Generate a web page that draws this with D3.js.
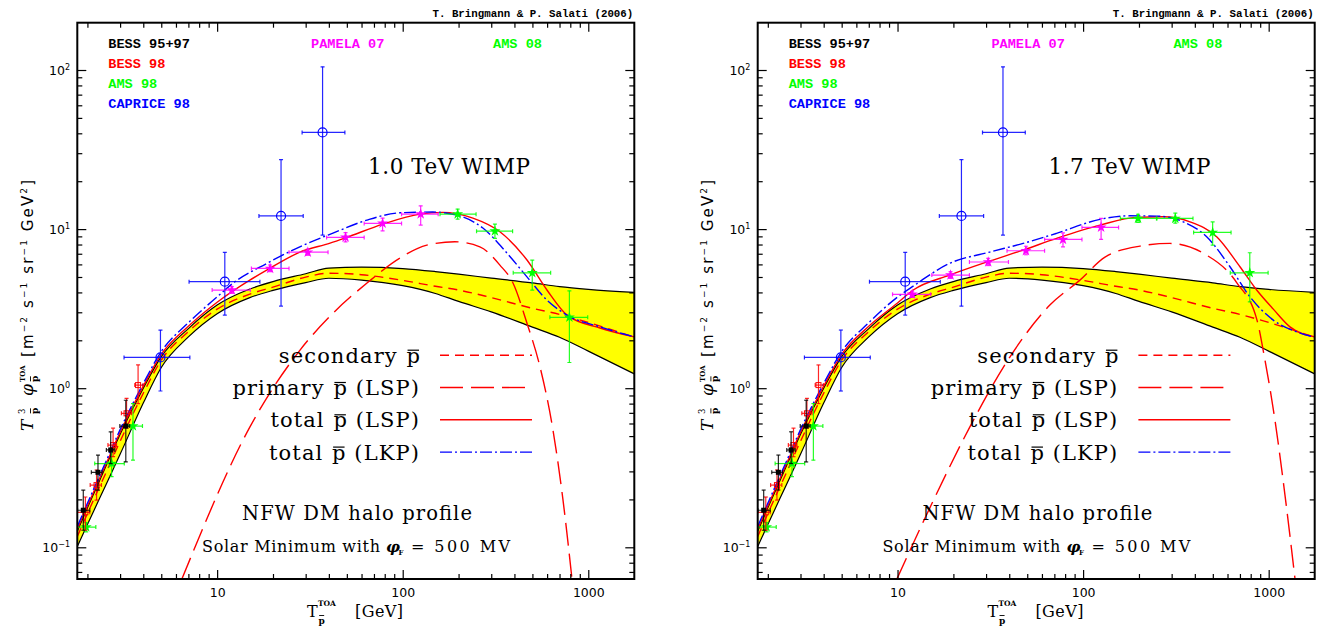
<!DOCTYPE html>
<html>
<head>
<meta charset="utf-8">
<script src="https://cdn.jsdelivr.net/npm/d3@7"></script>
<style>
  body { margin: 0; background: #fff; }
  svg { display: block; }
</style>
</head>
<body>
<div id="chart"></div>
<script>
// secondary antiproton band (same in both panels)
const energyGrid   = [1.764, 2, 2.5, 3, 4, 5, 7, 10, 15, 20, 30, 40, 60, 100, 150, 200, 300, 500, 700, 1000, 1770];
const secondaryMax = [0.126, 0.177, 0.318, 0.513, 1.00, 1.58, 2.37, 3.33, 4.20, 4.68, 5.24, 5.69, 5.77, 5.65, 5.41, 5.21, 4.92, 4.59, 4.35, 4.18, 4.00];
const secondaryMin = [0.101, 0.139, 0.243, 0.384, 0.806, 1.35, 2.10, 2.94, 3.71, 4.12, 4.61, 4.91, 4.78, 4.41, 3.94, 3.51, 3.02, 2.42, 2.09, 1.71, 1.23];
const secondaryMed = [0.117, 0.163, 0.289, 0.464, 0.93, 1.50, 2.27, 3.14, 3.90, 4.32, 4.99, 5.28, 5.17, 4.76, 4.37, 4.14, 3.71, 3.18, 2.91, 2.59, 2.09];

// 1.0 TeV WIMP
const prim10E = [6.45, 15.0, 27.9, 42.1, 64.2, 96.5, 134.9, 190.9, 260.5, 334, 392.9, 467.4, 549.5, 645.4, 730.8, 817.2];
const prim10F = [0.063, 0.569, 1.73, 2.96, 4.58, 6.57, 7.93, 8.32, 7.74, 5.94, 4.58, 2.56, 1.36, 0.545, 0.198, 0.063];
const lsp10E = [1.764, 2, 2.5, 3, 4, 5, 7, 10, 15, 18.5, 27.9, 40.6, 48.8, 78.2, 123.6, 164.4, 238.9, 334, 467.4, 598.7, 767.9, 1156, 1770];
const lsp10F = [0.130, 0.182, 0.327, 0.528, 1.03, 1.63, 2.45, 3.47, 4.78, 5.52, 7.16, 8.16, 8.78, 10.75, 12.42, 12.74, 11.72, 9.62, 6.39, 4.14, 2.88, 2.39, 2.10];
const lkp10E = [1.764, 2, 2.5, 3, 4, 5, 7, 10, 12.15, 18.5, 27.9, 42.1, 64.2, 96.5, 145.3, 195.8, 270.4, 364.4, 467.4, 598.7, 767.9, 1156, 1770];
const lkp10F = [0.135, 0.189, 0.340, 0.549, 1.07, 1.70, 2.58, 3.75, 4.56, 6.08, 7.74, 9.44, 11.39, 12.66, 12.8, 12.24, 10.15, 7.07, 5.01, 3.58, 2.88, 2.43, 2.10];

// 1.7 TeV WIMP
const prim17E = [9.91, 14.9, 24.5, 40.3, 66.2, 96.1, 131.2, 202.4, 293.6, 442.6, 675, 865, 955, 1081, 1224, 1387];
const prim17F = [0.063, 0.176, 0.569, 1.57, 3.33, 4.78, 6.67, 7.82, 8.13, 7.07, 4.58, 2.68, 1.50, 0.63, 0.213, 0.063];
const lsp17E = [1.764, 2, 2.5, 3, 4, 5, 7, 10, 12.15, 19.1, 31.4, 47.5, 71.9, 123.2, 194.3, 270.3, 376.5, 524.5, 700.2, 861.6, 1059, 1302, 1777];
const lsp17F = [0.130, 0.182, 0.327, 0.528, 1.03, 1.63, 2.45, 3.43, 4.14, 5.14, 6.30, 7.38, 8.74, 10.59, 11.85, 11.95, 11.11, 8.95, 5.80, 4.14, 3.14, 2.43, 2.10];
const lkp17E = [1.764, 2, 2.5, 3, 4, 5, 7, 10, 12.15, 19.1, 31.4, 47.5, 71.9, 123.2, 178.8, 249, 346.4, 463.3, 618.6, 793.2, 1059, 1415, 1777];
const lkp17F = [0.135, 0.189, 0.340, 0.549, 1.07, 1.70, 2.58, 3.74, 4.38, 6.09, 7.17, 8.13, 9.40, 11.51, 12.12, 12.07, 11.11, 8.95, 5.80, 3.75, 2.68, 2.26, 2.09];

// measurements: [T, Tlo, Thi, flux, fluxLo, fluxHi]
const bess9597 = [
  [1.90, 1.77, 2.06, 0.171, 0.128, 0.229],
  [2.28, 2.10, 2.40, 0.296, 0.229, 0.380],
  [2.67, 2.53, 2.81, 0.409, 0.336, 0.532],
  [3.22, 2.99, 3.38, 0.578, 0.344, 0.84]
];
const bess98 = [
  [1.95, 1.764, 2.06, 0.166, 0.128, 0.207],
  [2.24, 2.07, 2.38, 0.246, 0.198, 0.306],
  [2.75, 2.58, 2.87, 0.439, 0.371, 0.561],
  [3.25, 3.05, 3.46, 0.695, 0.561, 0.863],
  [3.75, 3.60, 3.99, 1.046, 0.80, 1.40]
];
const ams98 = [
  [1.97, 1.764, 2.22, 0.134, 0.125, 0.143],
  [2.70, 2.19, 3.16, 0.336, 0.278, 0.419],
  [3.52, 3.18, 3.96, 0.578, 0.353, 0.80]
];
const caprice98 = [
  [4.95, 3.15, 7.13, 1.56, 0.96, 2.32],
  [11.0, 7.06, 17.0, 4.67, 2.88, 7.14],
  [22.1, 16.8, 29.1, 12.1, 3.28, 27.3],
  [37.0, 28.7, 48.8, 40.5, 9.17, 104.7]
];
const pamela10 = [
  [12.0, 9.4, 15.1, 4.14, 3.95, 4.35],
  [19.3, 15.3, 24.4, 5.66, 5.40, 5.95],
  [30.8, 24.4, 39.6, 7.16, 6.85, 7.50],
  [49.2, 38.9, 62.0, 8.87, 8.30, 9.50],
  [77.9, 62.0, 98.6, 10.86, 9.76, 11.72],
  [125, 98.6, 155.3, 12.42, 10.6, 14.0]
];
const ams08_10 = [
  [197.7, 158.8, 248.5, 12.42, 11.55, 13.37],
  [314, 250, 391, 9.71, 8.74, 10.75],
  [499, 394, 627, 5.31, 4.14, 6.39],
  [791, 621, 993, 2.79, 1.45, 4.09]
];
const pamela17 = [
  [12.0, 9.4, 15.1, 3.89, 3.72, 4.07],
  [19.3, 15.3, 24.4, 5.14, 4.90, 5.40],
  [30.8, 24.4, 39.6, 6.21, 5.90, 6.55],
  [49.2, 38.9, 62.0, 7.31, 6.90, 7.80],
  [77.9, 62.0, 98.6, 8.61, 7.74, 9.48],
  [125, 98.6, 155.3, 10.25, 8.61, 11.67]
];
const ams08_17 = [
  [197.7, 158.8, 248.5, 11.67, 11.0, 12.4],
  [314, 250, 391, 11.67, 10.9, 12.6],
  [499, 394, 627, 9.53, 7.93, 11.1],
  [791, 621, 993, 5.31, 3.49, 7.10]
];

const xMajor = [10, 100, 1000];
const xMinor = [2, 3, 4, 5, 6, 7, 8, 9, 20, 30, 40, 50, 60, 70, 80, 90, 200, 300, 400, 500, 600, 700, 800, 900];
const yMajor = [0.1, 1, 10, 100];
const yMinor = [0.07, 0.08, 0.09, 0.2, 0.3, 0.4, 0.5, 0.6, 0.7, 0.8, 0.9, 2, 3, 4, 5, 6, 7, 8, 9, 20, 30, 40, 50, 60, 70, 80, 90];
const yExp = {0.1: "\u22121", 1: "0", 10: "1", 100: "2"};

// legend labels, split around the barred p
const legendParts = [["secondary ", "p", ""], ["primary ", "p", " (LSP)"], ["total ", "p", " (LSP)"], ["total ", "p", " (LKP)"]];

const panels = [
  {id: 0, ox: 0, wimp: "1.0 TeV WIMP", primE: prim10E, primF: prim10F, lspE: lsp10E, lspF: lsp10F,
   lkpE: lkp10E, lkpF: lkp10F, pamela: pamela10, ams08: ams08_10, legShift: 0},
  {id: 1, ox: 680.4, wimp: "1.7 TeV WIMP", primE: prim17E, primF: prim17F, lspE: lsp17E, lspF: lsp17F,
   lkpE: lkp17E, lkpF: lkp17F, pamela: pamela17, ams08: ams08_17, legShift: 18}
];

const W = 1322, H = 629;
const L = 77.3, R = 634.3, T = 22.7, B = 579;
const SERIF = "'DejaVu Serif', serif";
const MONO = "'Liberation Mono', 'DejaVu Sans Mono', monospace";
const SANS = "'DejaVu Sans', sans-serif";
const GREEN = "#00ff00";
const LW = 1.4;

const svg = d3.select("#chart").append("svg")
  .attr("width", W).attr("height", H)
  .style("font-family", SERIF);

// short bar above a small "p" text element
function barOver(g, node, yBar, w) {
  const bb = node.getBBox();
  const len = Math.min(bb.width, 12);
  g.append("line")
    .attr("x1", bb.x + 0.1 * len).attr("x2", bb.x + 0.9 * len)
    .attr("y1", yBar).attr("y2", yBar)
    .style("stroke", "#000").style("stroke-width", w);
}

function drawPoints(g, x, y, data, color, shape) {
  const grp = g.append("g").selectAll("g").data(data).join("g");
  const line = sel => sel.style("stroke", color).style("stroke-width", 1.2).style("stroke-opacity", 0.85);
  line(grp.append("line")).attr("x1", d => x(d[1])).attr("x2", d => x(d[2])).attr("y1", d => y(d[3])).attr("y2", d => y(d[3]));
  line(grp.append("line")).attr("x1", d => x(d[0])).attr("x2", d => x(d[0])).attr("y1", d => y(d[4])).attr("y2", d => y(d[5]));
  // caps
  [1, 2].forEach(i => line(grp.append("line")).attr("x1", d => x(d[i])).attr("x2", d => x(d[i]))
    .attr("y1", d => y(d[3]) - 2).attr("y2", d => y(d[3]) + 2));
  [4, 5].forEach(i => line(grp.append("line")).attr("x1", d => x(d[0]) - 2).attr("x2", d => x(d[0]) + 2)
    .attr("y1", d => y(d[i])).attr("y2", d => y(d[i])));
  if (shape === "circle") {
    grp.append("circle").attr("cx", d => x(d[0])).attr("cy", d => y(d[3])).attr("r", 4.5)
      .style("fill", "none").style("stroke", color).style("stroke-width", 1.2);
  } else if (shape === "square") {
    grp.append("rect").attr("x", d => x(d[0]) - 2.5).attr("y", d => y(d[3]) - 2.5).attr("width", 5).attr("height", 5)
      .style("fill", color);
  } else if (shape === "opensquare") {
    grp.append("rect").attr("x", d => x(d[0]) - 2.5).attr("y", d => y(d[3]) - 2.5).attr("width", 5).attr("height", 5)
      .style("fill", "none").style("stroke", color).style("stroke-width", 1);
  } else {
    grp.append("path").attr("transform", d => `translate(${x(d[0])},${y(d[3])})`)
      .attr("d", d3.symbol(d3.symbolStar, 38)).style("fill", color);
  }
}

function drawPanel(p) {
  const g = svg.append("g").attr("transform", `translate(${p.ox},0)`);
  const x = d3.scaleLog().domain([1.764, 1770]).range([L, R]);
  const y = d3.scaleLog().domain([0.0632, 198.3]).range([B, T]);

  const clipId = "clip" + p.id;
  g.append("clipPath").attr("id", clipId).append("rect")
    .attr("x", L).attr("y", T).attr("width", R - L).attr("height", B - T);
  const plot = g.append("g").attr("clip-path", `url(#${clipId})`);

  const band = energyGrid.map((e, i) => ({e: e, lo: secondaryMin[i], hi: secondaryMax[i], mid: secondaryMed[i]}));
  plot.append("path").datum(band)
    .attr("d", d3.area().x(d => x(d.e)).y0(d => y(d.lo)).y1(d => y(d.hi)).curve(d3.curveMonotoneX))
    .style("fill", "#ffff00");
  ["lo", "hi"].forEach(k => plot.append("path").datum(band)
    .attr("d", d3.line().x(d => x(d.e)).y(d => y(d[k])).curve(d3.curveMonotoneX))
    .style("fill", "none").style("stroke", "#000").style("stroke-width", 1.2));

  const curve = (E, F) => d3.line().x((d, i) => x(E[i])).y(d => y(d)).curve(d3.curveMonotoneX)(F);
  const stroke = (sel, c, dash) => {
    sel.style("fill", "none").style("stroke", c).style("stroke-width", LW);
    if (dash) sel.style("stroke-dasharray", dash);
    return sel;
  };
  stroke(plot.append("path").attr("d", d3.line().x(d => x(d.e)).y(d => y(d.mid)).curve(d3.curveMonotoneX)(band)), "#ff0000", "9,6");
  stroke(plot.append("path").attr("d", curve(p.primE, p.primF)), "#ff0000", "23,8");
  stroke(plot.append("path").attr("d", curve(p.lspE, p.lspF)), "#ff0000", null);
  stroke(plot.append("path").attr("d", curve(p.lkpE, p.lkpF)), "#0000ff", "12,3,2,3");

  // data
  drawPoints(plot, x, y, caprice98, "#0000ff", "circle");
  drawPoints(plot, x, y, ams98, GREEN, "star");
  drawPoints(plot, x, y, bess98, "#ff0000", "opensquare");
  drawPoints(plot, x, y, bess9597, "#000000", "square");
  drawPoints(plot, x, y, p.pamela, "#ff00ff", "star");
  drawPoints(plot, x, y, p.ams08, GREEN, "star");

  // axes: ticks inward on all four sides
  const tickStyle = sel => { sel.select(".domain").remove(); sel.selectAll("line").style("stroke-width", 1.2); };
  g.append("g").attr("transform", `translate(0,${B})`)
    .call(d3.axisBottom(x).tickValues(xMajor).tickSize(-9).tickPadding(9).tickFormat(d3.format("d")))
    .call(tickStyle)
    .call(s => s.selectAll("text").attr("font-family", SANS).attr("font-size", 12.5).style("fill", "#000"));
  g.append("g").attr("transform", `translate(0,${B})`).call(d3.axisBottom(x).tickValues(xMinor).tickSize(-5).tickFormat("")).call(tickStyle);
  g.append("g").attr("transform", `translate(0,${T})`).call(d3.axisTop(x).tickValues(xMajor).tickSize(-9).tickFormat("")).call(tickStyle);
  g.append("g").attr("transform", `translate(0,${T})`).call(d3.axisTop(x).tickValues(xMinor).tickSize(-5).tickFormat("")).call(tickStyle);
  g.append("g").attr("transform", `translate(${L},0)`).call(d3.axisLeft(y).tickValues(yMajor).tickSize(-9).tickFormat("")).call(tickStyle);
  g.append("g").attr("transform", `translate(${L},0)`).call(d3.axisLeft(y).tickValues(yMinor).tickSize(-5).tickFormat("")).call(tickStyle);
  g.append("g").attr("transform", `translate(${R},0)`).call(d3.axisRight(y).tickValues(yMajor).tickSize(-9).tickFormat("")).call(tickStyle);
  g.append("g").attr("transform", `translate(${R},0)`).call(d3.axisRight(y).tickValues(yMinor).tickSize(-5).tickFormat("")).call(tickStyle);

  const yl = g.append("g").selectAll("text").data(yMajor).join("text")
    .attr("x", 70).attr("y", d => y(d) + 5).attr("text-anchor", "end")
    .attr("font-family", SANS).attr("font-size", 12.5);
  yl.append("tspan").text("10");
  yl.append("tspan").attr("dy", -5).attr("font-size", 8).text(d => yExp[d]);

  g.append("rect").attr("x", L).attr("y", T).attr("width", R - L).attr("height", B - T)
    .style("fill", "none").style("stroke", "#000").style("stroke-width", 2);

  // credit and dataset names
  g.append("text").attr("x", R - 1).attr("y", 17).attr("text-anchor", "end")
    .attr("font-family", MONO).attr("font-weight", "bold").attr("font-size", 10.8).text("T. Bringmann & P. Salati (2006)");
  const sets = [
    {t: "BESS 95+97", c: "#000000", x: 108.3, y: 47.7},
    {t: "BESS 98", c: "#ff0000", x: 108.3, y: 67.7},
    {t: "AMS 98", c: GREEN, x: 108.3, y: 87.7},
    {t: "CAPRICE 98", c: "#0000ff", x: 108.3, y: 107.7},
    {t: "PAMELA 07", c: "#ff00ff", x: 311, y: 47.7},
    {t: "AMS 08", c: GREEN, x: 493, y: 47.7}
  ];
  g.append("g").selectAll("text").data(sets).join("text")
    .attr("x", d => d.x).attr("y", d => d.y).style("fill", d => d.c)
    .attr("font-family", MONO).attr("font-weight", "bold").attr("font-size", 13.6).text(d => d.t);

  g.append("text").attr("x", 368).attr("y", 174).attr("font-size", 21.5)
    .attr("textLength", 162).attr("lengthAdjust", "spacing").text(p.wimp);

  // curve legend: text pieces placed right to left from the anchor
  const lx = p.legShift;
  const legY = [362.7, 395, 427.3, 459.6];
  const dashes = ["9,6", "23,8", null, "12,3,2,3"];
  const colors = ["#ff0000", "#ff0000", "#ff0000", "#0000ff"];
  const fs = 21, ls = 1.1;
  legendParts.forEach((parts, i) => {
    let xr = 420 + lx;
    const tail = g.append("text").attr("x", xr).attr("y", legY[i]).attr("text-anchor", "end")
      .attr("font-size", fs).style("letter-spacing", ls + "px").style("white-space", "pre").text(parts[2]);
    if (parts[2]) xr -= tail.node().getComputedTextLength() + 1;
    const pt = g.append("text").attr("x", xr).attr("y", legY[i]).attr("text-anchor", "end")
      .attr("font-size", fs).text(parts[1]);
    const pw = pt.node().getComputedTextLength();
    g.append("line").attr("x1", xr - pw + 1).attr("x2", xr - 1)
      .attr("y1", legY[i] - 12.5).attr("y2", legY[i] - 12.5)
      .style("stroke", "#000").style("stroke-width", 1.2);
    xr -= pw + 1;
    g.append("text").attr("x", xr).attr("y", legY[i]).attr("text-anchor", "end")
      .attr("font-size", fs).style("letter-spacing", ls + "px").style("white-space", "pre").text(parts[0]);
    g.append("path").attr("d", `M${440 + lx},${legY[i] - 7.5}H${532 + lx}`)
      .style("fill", "none").style("stroke", colors[i]).style("stroke-width", LW)
      .style("stroke-dasharray", dashes[i] || "none");
  });

  g.append("text").attr("x", 242).attr("y", 520).attr("font-size", 19.5)
    .attr("textLength", 230).attr("lengthAdjust", "spacing").text("NFW DM halo profile");
  g.append("text").attr("x", 202).attr("y", 551.7).attr("font-size", 16)
    .attr("textLength", 178).attr("lengthAdjust", "spacing").text("Solar Minimum with");
  g.append("text").attr("x", 386).attr("y", 551.7).attr("font-size", 15.5).attr("font-style", "italic").attr("font-weight", "bold").text("\u03c6");
  g.append("text").attr("x", 398.5).attr("y", 555).attr("font-size", 7).attr("font-weight", "bold").text("F");
  g.append("text").attr("x", 411).attr("y", 551.7).attr("font-size", 16)
    .attr("textLength", 99).attr("lengthAdjust", "spacing").text("= 500 MV");

  // x title
  g.append("text").attr("x", 307).attr("y", 617).attr("font-size", 16).text("T");
  g.append("text").attr("x", 318).attr("y", 606).attr("font-size", 7.5).attr("font-weight", "bold").text("TOA");
  const xp = g.append("text").attr("x", 318.5).attr("y", 624).attr("font-size", 9).attr("font-weight", "bold").text("p");
  barOver(g, xp.node(), 615.5, 0.9);
  g.append("text").attr("x", 355).attr("y", 617).attr("font-size", 16)
    .attr("textLength", 48).attr("lengthAdjust", "spacing").text("[GeV]");

  // y title
  const yt = g.append("g").attr("transform", "translate(33,433) rotate(-90)");
  yt.append("text").attr("x", 2).attr("y", 0).attr("font-size", 17).attr("font-style", "italic").text("T");
  yt.append("text").attr("x", 19).attr("y", -8).attr("font-size", 8.5).text("3");
  const p1 = yt.append("text").attr("x", 19).attr("y", 5).attr("font-size", 9).attr("font-weight", "bold").text("p");
  barOver(yt, p1.node(), -2.5, 0.9);
  yt.append("text").attr("x", 37).attr("y", 0).attr("font-size", 17).attr("font-style", "italic").text("\u03c6");
  yt.append("text").attr("x", 51).attr("y", -8).attr("font-size", 7).attr("font-weight", "bold").text("TOA");
  const p2 = yt.append("text").attr("x", 51).attr("y", 5).attr("font-size", 9).attr("font-weight", "bold").text("p");
  barOver(yt, p2.node(), -2.5, 0.9);
  const unit = yt.append("text").attr("x", 76).attr("y", 0).attr("font-family", SANS).attr("font-size", 15)
    .attr("textLength", 177).attr("lengthAdjust", "spacing");
  unit.append("tspan").text("[m");
  unit.append("tspan").attr("dy", -6).attr("font-size", 9).text("\u22122");
  unit.append("tspan").attr("dy", 6).text(" s");
  unit.append("tspan").attr("dy", -6).attr("font-size", 9).text("\u22121");
  unit.append("tspan").attr("dy", 6).text(" sr");
  unit.append("tspan").attr("dy", -6).attr("font-size", 9).text("\u22121");
  unit.append("tspan").attr("dy", 6).text(" GeV");
  unit.append("tspan").attr("dy", -6).attr("font-size", 9).text("2");
  unit.append("tspan").attr("dy", 6).text("]");
}

panels.forEach(drawPanel);
</script>
</body>
</html>
